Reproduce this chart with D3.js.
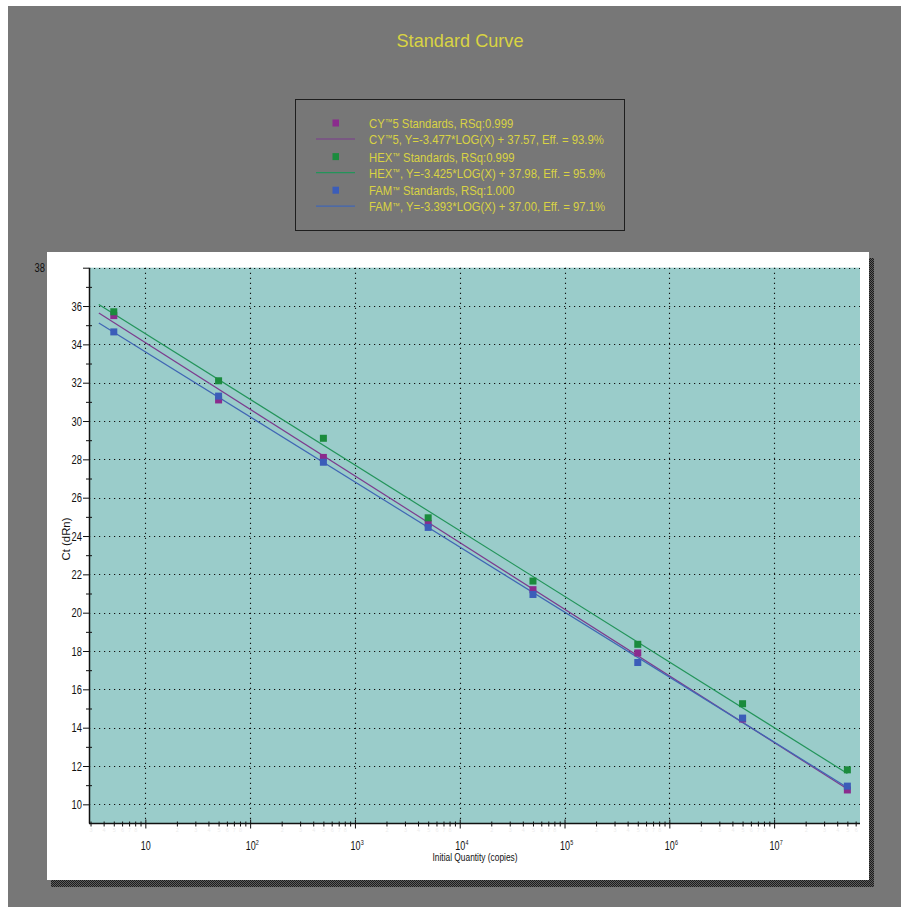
<!DOCTYPE html>
<html>
<head>
<meta charset="utf-8">
<script src="https://cdn.jsdelivr.net/npm/d3@7"></script>
<style>
  html, body { margin: 0; padding: 0; background: #ffffff; }
  svg { display: block; }
  text { font-family: "Liberation Sans", Arial, "DejaVu Sans", sans-serif; }
</style>
</head>
<body>
<script>
// Standard dilution series (copies) and measured Ct per dye
const quantities = [5, 50, 500, 5000, 50000, 500000, 5000000, 50000000];
const cy5Ct = [35.5, 31.1, 28.1, 24.65, 21.2, 17.9, 14.45, 10.75];
const hexCt = [35.7, 32.1, 29.1, 24.95, 21.65, 18.35, 15.25, 11.8];
const famCt = [34.65, 31.3, 27.85, 24.45, 20.95, 17.4, 14.5, 10.95];

// Fitted standard curves: Ct = slope * log10(quantity) + intercept
const seriesNames = ["CY\u21225", "HEX\u2122", "FAM\u2122"];
const fitSlopes = [-3.477, -3.425, -3.393];
const fitIntercepts = [37.57, 37.98, 37.00];
const rSquared = ["0.999", "0.999", "1.000"];
const efficiencies = ["93.9%", "95.9%", "97.1%"];
const fitRange = [3.6, 50000000];

// Axis ticks
const yMajorTicks = d3.range(10, 39, 2);
const yMinorTicks = d3.range(11, 38, 2);
const xDecades = [10, 1e2, 1e3, 1e4, 1e5, 1e6, 1e7];

const markColors = ["#8b2b8d", "#1b8b3d", "#3b5db9"];
const lineColors = ["#7d3b8e", "#23945a", "#4066b4"];
const seriesCt = [cy5Ct, hexCt, famCt];

const W = 901, H = 907;
const svg = d3.select("body").append("svg").attr("width", W).attr("height", H);

const defs = svg.append("defs");
const pat = defs.append("pattern").attr("id", "dither")
  .attr("width", 2).attr("height", 2).attr("patternUnits", "userSpaceOnUse");
pat.append("rect").attr("width", 2).attr("height", 2).attr("fill", "#5c5c5c");
pat.append("rect").attr("width", 1).attr("height", 1).attr("fill", "#1c1c1c");
pat.append("rect").attr("x", 1).attr("y", 1).attr("width", 1).attr("height", 1).attr("fill", "#1c1c1c");

// Window background
svg.append("rect").attr("x", 8).attr("y", 6).attr("width", W - 8).attr("height", H - 6).attr("fill", "#777777");

// Title
svg.append("text")
  .attr("x", 460).attr("y", 47).attr("text-anchor", "middle")
  .attr("font-size", 19).attr("fill", "#d9d343")
  .attr("textLength", 127).attr("lengthAdjust", "spacingAndGlyphs")
  .text("Standard Curve");

// Legend
const legend = svg.append("g");
legend.append("rect").attr("x", 295.5).attr("y", 99.5).attr("width", 329).attr("height", 131)
  .attr("fill", "none").attr("stroke", "#1e1e1e").attr("stroke-width", 1);
const rowStep = 33.6;
seriesNames.forEach((name, i) => {
  const y0 = 128 + i * rowStep;
  legend.append("rect").attr("x", 332.5).attr("y", y0 - 8.5).attr("width", 6.5).attr("height", 7)
    .attr("fill", markColors[i]);
  legend.append("line").attr("x1", 316).attr("x2", 355).attr("y1", y0 + 11).attr("y2", y0 + 11)
    .attr("stroke", lineColors[i]).attr("stroke-width", 1.2);
  const t1 = `${name} Standards, RSq:${rSquared[i]}`;
  const slope = fitSlopes[i].toFixed(3);
  const icpt = fitIntercepts[i].toFixed(2);
  const t2 = `${name}, Y=${slope}*LOG(X) + ${icpt}, Eff. = ${efficiencies[i]}`;
  [t1, t2].forEach((t, k) => {
    const txt = legend.append("text")
      .attr("x", 369).attr("y", y0 + k * 16)
      .attr("font-size", 12.6).attr("fill", "#d9d343")
      .attr("transform", `translate(369,0) scale(0.9,1) translate(-369,0)`);
    // trademark sign set smaller and slightly raised
    t.split("\u2122").forEach((part, p) => {
      if (p > 0) txt.append("tspan").attr("font-size", 8.5).attr("dy", -2.5).text("\u2122");
      txt.append("tspan").attr("dy", p > 0 ? 2.5 : 0).text(part);
    });
  });
});

// Chart panel with dithered drop shadow
const panel = { x: 47, y: 252, w: 822, h: 628 };
svg.append("rect").attr("x", panel.x + panel.w).attr("y", panel.y + 6).attr("width", 5).attr("height", panel.h + 1)
  .attr("fill", "url(#dither)");
svg.append("rect").attr("x", panel.x + 4).attr("y", panel.y + panel.h).attr("width", panel.w + 1).attr("height", 7)
  .attr("fill", "url(#dither)");
svg.append("rect").attr("x", panel.x).attr("y", panel.y).attr("width", panel.w).attr("height", panel.h)
  .attr("fill", "#ffffff");

// Plot area
const plot = { left: 89, right: 860, top: 267.7, bottom: 823.5 };
const x = d3.scaleLog().domain([2.9, 6.6e7]).range([plot.left, plot.right]);
const y = d3.scaleLinear().domain([9, 38]).range([plot.bottom, plot.top]);

svg.append("rect").attr("x", plot.left).attr("y", plot.top)
  .attr("width", plot.right - plot.left).attr("height", plot.bottom - plot.top)
  .attr("fill", "#9accca");

// Dotted grid
const grid = svg.append("g").attr("stroke", "#111").attr("stroke-width", 1.1)
  .attr("stroke-dasharray", "1.2,3.8");
grid.selectAll("line.h").data(yMajorTicks).join("line").attr("class", "h")
  .attr("x1", plot.left).attr("x2", plot.right)
  .attr("y1", d => Math.round(y(d)) + 0.5).attr("y2", d => Math.round(y(d)) + 0.5);
grid.selectAll("line.v").data(xDecades).join("line").attr("class", "v")
  .attr("x1", d => Math.round(x(d)) + 0.5).attr("x2", d => Math.round(x(d)) + 0.5)
  .attr("y1", plot.top).attr("y2", plot.bottom);

// Regression lines
const fitLine = d3.line().x(d => x(d[0])).y(d => y(d[1]));
fitSlopes.forEach((s, i) => {
  const pts = fitRange.map(q => [q, s * Math.log10(q) + fitIntercepts[i]]);
  svg.append("path").attr("d", fitLine(pts)).attr("fill", "none")
    .attr("stroke", lineColors[i]).attr("stroke-width", 1.2);
});

// Standards
seriesCt.forEach((vals, i) => {
  svg.append("g").selectAll("rect").data(vals).join("rect")
    .attr("x", (d, j) => x(quantities[j]) - 3.5)
    .attr("y", d => y(d) - 3.5)
    .attr("width", 7).attr("height", 7)
    .attr("fill", markColors[i]);
});

// Y axis (labels set in a narrow face)
const yScaleX = 0.75;
const yAxis = svg.append("g")
  .attr("transform", `translate(${plot.left},0)`)
  .call(d3.axisLeft(y).tickValues(yMajorTicks).tickSize(6).tickPadding(1).tickFormat(d3.format("d")));
yAxis.attr("font-family", null);
yAxis.select(".domain").remove();
yAxis.selectAll(".tick line").attr("stroke", "#111");
yAxis.selectAll(".tick text").attr("font-size", 12.5).attr("fill", "#111")
  .attr("x", d => (d === 38 ? -44 : -7) / yScaleX)
  .attr("transform", `scale(${yScaleX},1)`);
svg.append("g").attr("transform", `translate(${plot.left},0)`)
  .call(d3.axisLeft(y).tickValues(yMinorTicks).tickSize(3).tickFormat(""))
  .call(g => g.select(".domain").remove())
  .selectAll(".tick line").attr("stroke", "#111").attr("x2", 3).attr("x1", -3);
svg.append("line").attr("x1", plot.left + 0.5).attr("x2", plot.left + 0.5)
  .attr("y1", plot.top).attr("y2", plot.bottom).attr("stroke", "#111").attr("stroke-width", 1.5);

// X axis: decade ticks labelled 10, 10², ... 10⁷
const xScaleX = 0.72;
const xAxis = svg.append("g")
  .attr("transform", `translate(0,${plot.bottom})`)
  .call(d3.axisBottom(x).tickValues(xDecades).tickSize(5).tickFormat(""));
xAxis.attr("font-family", null).attr("text-anchor", "start");
xAxis.select(".domain").remove();
xAxis.selectAll(".tick text").remove();
xAxis.selectAll(".tick line").attr("stroke", "#111").attr("y1", -4).attr("y2", 5);
xAxis.selectAll(".tick").each(function (d) {
  const e = Math.round(Math.log10(d));
  const g = d3.select(this);
  g.append("text").attr("font-size", 12.5).attr("fill", "#111").attr("text-anchor", "start")
    .attr("transform", `translate(-5,26.5) scale(${xScaleX},1)`)
    .text("10");
  if (e > 1) g.append("text").attr("font-size", 7.5).attr("fill", "#111").attr("text-anchor", "start")
    .attr("transform", `translate(5.2,21.5) scale(${xScaleX},1)`)
    .text(String(e));
});

// Minor decade ticks with their faint multiplier labels
const minorX = [];
for (let e = 0; e <= 7; e++) for (let m = 2; m <= 9; m++) {
  const v = m * Math.pow(10, e);
  if (v > 2.9 && v < 6.6e7) minorX.push(v);
}
const mantissa = d => Math.round(d / Math.pow(10, Math.floor(Math.log10(d) + 1e-9)));
const xMinor = svg.append("g").attr("transform", `translate(0,${plot.bottom})`)
  .call(d3.axisBottom(x).tickValues(minorX).tickSize(3).tickPadding(2)
    .tickFormat(d => mantissa(d) < 9 ? String(mantissa(d)) : ""));
xMinor.select(".domain").remove();
xMinor.selectAll(".tick line").attr("stroke", "#111").attr("y1", -2);
xMinor.selectAll(".tick text").attr("font-size", 5.5).attr("fill", "#ececec");

svg.append("line").attr("x1", plot.left).attr("x2", plot.right)
  .attr("y1", plot.bottom).attr("y2", plot.bottom).attr("stroke", "#111").attr("stroke-width", 1.5);

// Axis titles
svg.append("text")
  .attr("x", 475).attr("y", 861).attr("text-anchor", "middle")
  .attr("font-size", 10.5).attr("fill", "#111")
  .attr("textLength", 85).attr("lengthAdjust", "spacingAndGlyphs")
  .text("Initial Quantity (copies)");
svg.append("text")
  .attr("transform", "translate(70,539) rotate(-90)").attr("text-anchor", "middle")
  .attr("font-size", 10.5).attr("fill", "#111")
  .attr("textLength", 43).attr("lengthAdjust", "spacingAndGlyphs")
  .text("Ct (dRn)");
</script>
</body>
</html>
